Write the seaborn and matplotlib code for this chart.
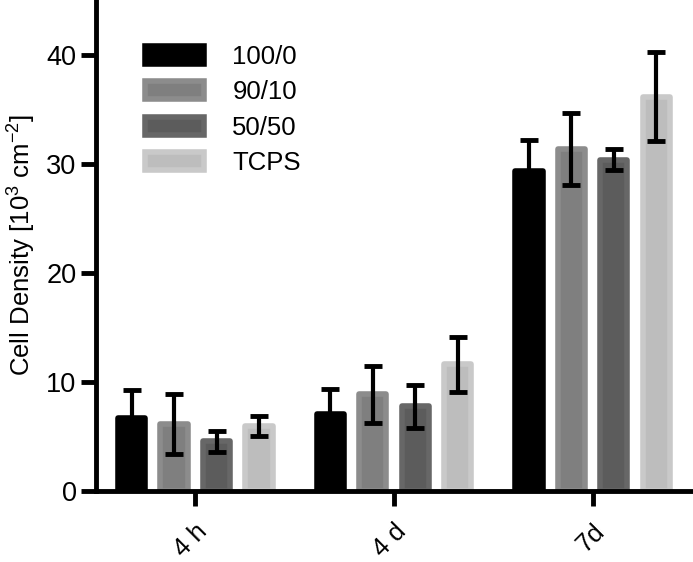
import matplotlib
matplotlib.use("Agg")
import matplotlib.pyplot as plt
import seaborn as sns
import pandas as pd
import numpy as np
from matplotlib.patches import Patch

# ---- data ----
groups = ['4 h', '4 d', '7d']
series = ['100/0', '90/10', '50/50', 'TCPS']
mean_100_0 = [6.65, 7.05, 29.3]
mean_90_10 = [6.15, 8.85, 31.3]
mean_50_50 = [4.55, 7.75, 30.35]
mean_tcps = [5.95, 11.6, 36.15]
err_100_0 = [2.65, 2.3, 2.9]
err_90_10 = [2.75, 2.6, 3.3]
err_50_50 = [0.95, 1.95, 0.95]
err_tcps = [0.95, 2.5, 4.05]
y_ticks = [0, 10, 20, 30, 40]

means = [mean_100_0, mean_90_10, mean_50_50, mean_tcps]
errs = [err_100_0, err_90_10, err_50_50, err_tcps]

face_colors = ['#000000', '#7f7f7f', '#5c5c5c', '#bdbdbd']
edge_colors = ['#000000', '#8c8c8c', '#676767', '#c9c9c9']

rows = []
for s, m in zip(series, means):
    for g, v in zip(groups, m):
        rows.append({'group': g, 'series': s, 'value': v})
df = pd.DataFrame(rows)

sns.set_style('ticks')
plt.rcParams['font.family'] = ['Liberation Sans', 'DejaVu Sans']
plt.rcParams['mathtext.fontset'] = 'custom'
plt.rcParams['mathtext.rm'] = 'Liberation Sans'
plt.rcParams['mathtext.default'] = 'regular'
plt.rcParams['text.color'] = 'black'
plt.rcParams['axes.labelcolor'] = 'black'
plt.rcParams['xtick.color'] = 'black'
plt.rcParams['ytick.color'] = 'black'

fig = plt.figure(figsize=(6.93, 5.62), dpi=100)
ax = fig.add_axes([0.1385, 0.1263, 0.86, 0.8737])

sns.barplot(data=df, x='group', y='value', hue='series', order=groups,
            hue_order=series, palette=face_colors, errorbar=None,
            width=0.855, gap=0.36, legend=False, ax=ax)

lw_edge = 4.0
bar_containers = list(ax.containers)
for i, cont in enumerate(bar_containers):
    for j, p in enumerate(cont.patches):
        p.set_edgecolor(edge_colors[i])
        p.set_linewidth(lw_edge)
        p.set_joinstyle('round')
        xc = p.get_x() + p.get_width() / 2
        ax.errorbar(xc, p.get_height(), yerr=errs[i][j], color='black',
                    elinewidth=3, capsize=6.5, capthick=3.5, fmt='none', zorder=5)

ax.set_xlim(-0.5, 2.5)
ax.set_ylim(0, 45)
ax.set_yticks(y_ticks)
ax.set_xlabel('')
ax.set_ylabel(r'Cell Density [10$^3$ cm$^{-2}$]', fontsize=18.5, labelpad=6,
              color='black')

for side in ['top', 'right']:
    ax.spines[side].set_visible(False)
for side in ['left', 'bottom']:
    ax.spines[side].set_linewidth(3.5)
    ax.spines[side].set_color('black')

ax.tick_params(axis='both', width=3.5, length=11, color='black',
               labelcolor='black', labelsize=19.5, pad=3)
plt.setp(ax.get_xticklabels(), rotation=45, ha='right', rotation_mode='anchor')
ax.tick_params(axis='x', pad=9)
for lbl in ax.get_xticklabels():
    lbl.set_fontsize(18.5)

handles = [Patch(facecolor=fc, edgecolor=ec, linewidth=lw_edge)
           for fc, ec in zip(face_colors, edge_colors)]
ax.legend(handles, series, loc='upper left', bbox_to_anchor=(0.065, 0.93),
          frameon=False, fontsize=18.5, handlelength=2.3, handleheight=0.7,
          handletextpad=1.1, labelspacing=0.45, borderaxespad=0)

fig.savefig('out.png', dpi=100)
